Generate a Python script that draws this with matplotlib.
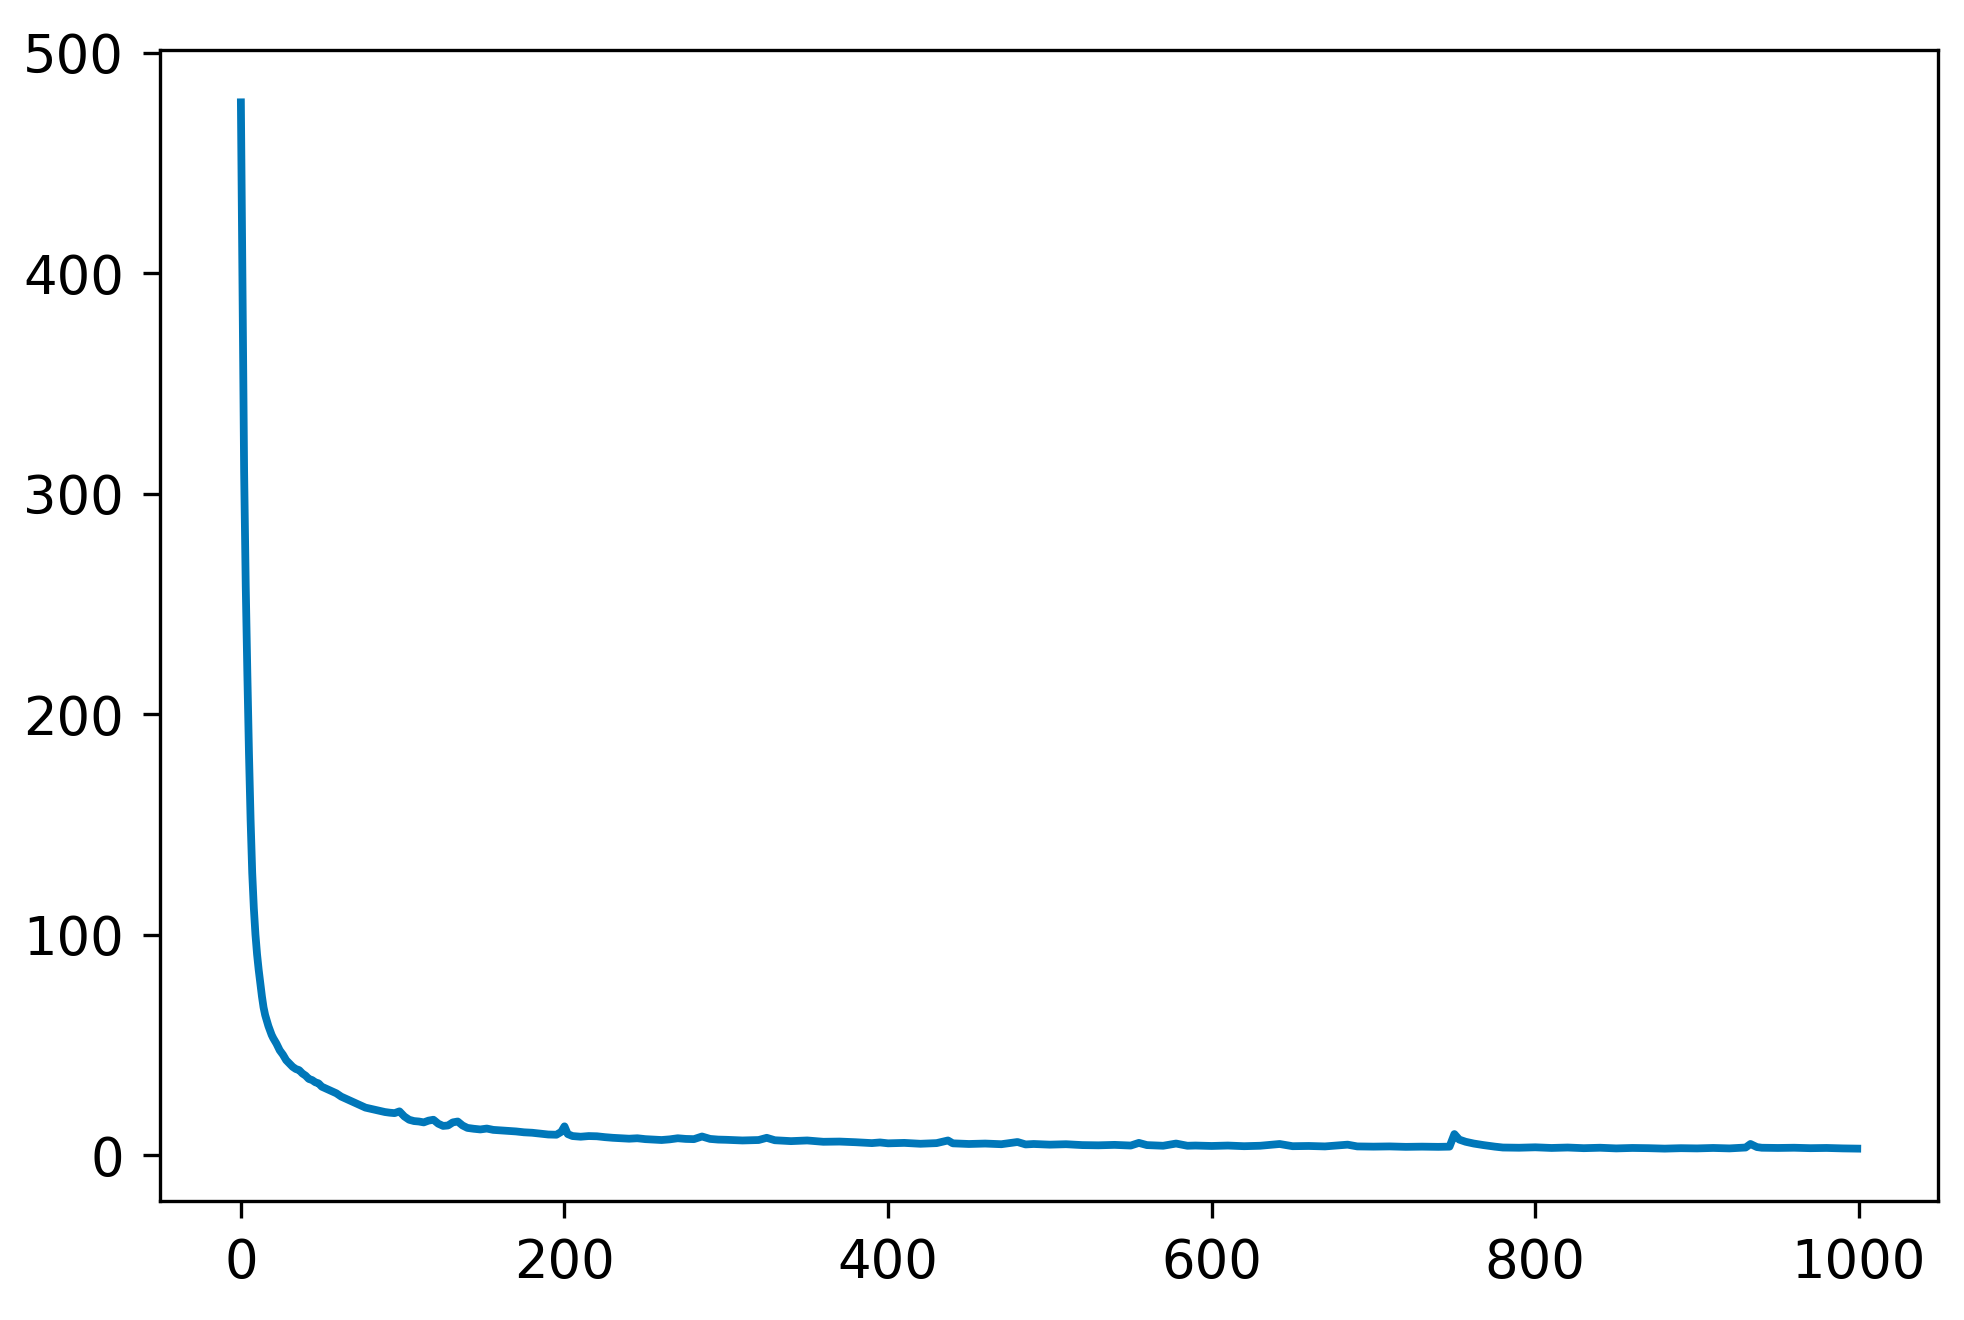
import matplotlib
matplotlib.use("Agg")
import matplotlib.pyplot as plt

# loss per epoch
epoch = [0, 1, 2, 3, 4, 5, 6, 7, 8, 9, 10, 11, 12, 13, 14, 15, 16, 17, 18, 19, 20,
         22, 24, 26, 28, 30, 32, 34, 36, 38, 40, 42, 44, 46, 48, 50,
         53, 56, 59, 62, 65, 68, 71, 74, 77, 80, 83, 86, 89, 92, 95, 98,
         101, 104, 107, 110, 113, 116, 119, 122, 125, 128, 131, 134, 137, 140,
         144, 148, 152, 156, 160, 165, 170, 175, 180, 185, 190, 195, 198, 200, 202,
         205, 210, 215, 220, 225, 230, 235, 240, 245, 250, 255, 260, 265, 270,
         275, 280, 285, 290, 295, 300,
         310, 320, 325, 330, 340, 350, 360, 370, 380, 390, 395, 400, 410, 420,
         430, 437, 440, 450, 460, 470, 480, 485, 490, 500, 510, 520, 530, 540,
         550, 555, 560, 570, 578, 585, 590, 600, 610, 620, 630, 642, 650, 660,
         670, 684, 690, 700, 710, 720, 730, 740, 747, 750, 753, 757, 762, 768,
         775, 780, 790, 800, 810, 820, 830, 840, 850, 860, 870, 880, 890, 900,
         910, 920, 930, 933, 937, 940, 950, 960, 970, 980, 990, 999]

loss = [477.5, 395, 310, 258, 218, 182, 152, 128, 112, 100, 91, 84, 78, 72, 67, 63.5, 61, 58.5, 56.5, 54.5, 53,
        50.5, 47.5, 45.5, 43, 41.5, 40, 39, 38.5, 37, 36, 34.5, 34, 33, 32.5, 31,
        30, 29, 28, 26.5, 25.5, 24.5, 23.5, 22.5, 21.5, 21, 20.5, 20, 19.5, 19.2, 19, 19.8,
        17.5, 16, 15.4, 15.2, 14.8, 15.6, 16, 14.2, 13.2, 13.4, 14.8, 15.2, 13.4, 12.3,
        11.9, 11.6, 12.0, 11.4, 11.2, 11.0, 10.7, 10.3, 10.1, 9.7, 9.3, 9.2, 10.5, 13.0, 9.5,
        8.6, 8.3, 8.6, 8.5, 8.1, 7.8, 7.6, 7.4, 7.6, 7.2, 7.0, 6.8, 7.1, 7.6,
        7.3, 7.2, 8.4, 7.3, 7.0, 6.9,
        6.6, 6.8, 7.8, 6.7, 6.3, 6.6, 6.0, 6.1, 5.8, 5.4, 5.7, 5.3, 5.5, 5.1,
        5.4, 6.6, 5.3, 5.0, 5.2, 4.9, 5.9, 4.8, 5.0, 4.7, 4.9, 4.5, 4.4, 4.6,
        4.3, 5.5, 4.5, 4.2, 5.2, 4.2, 4.3, 4.1, 4.3, 4.0, 4.2, 5.0, 4.0, 4.1,
        3.9, 4.7, 3.9, 3.8, 3.9, 3.7, 3.8, 3.7, 3.8, 9.5, 7.0, 6.0, 5.2, 4.5,
        3.8, 3.4, 3.3, 3.5, 3.2, 3.4, 3.1, 3.3, 3.0, 3.2, 3.1, 2.9, 3.1, 3.0,
        3.2, 3.0, 3.4, 5.0, 3.6, 3.3, 3.2, 3.3, 3.1, 3.2, 3.0, 2.9]

xticks = [0, 200, 400, 600, 800, 1000]
yticks = [0, 100, 200, 300, 400, 500]

fig = plt.figure(figsize=(9.82, 6.6), dpi=200)
ax = fig.add_axes([0.0815, 0.0902, 0.9053, 0.8719])

ax.plot(epoch, loss, color='#0077b9', linewidth=2.8)

ax.set_xticks(xticks)
ax.set_yticks(yticks)
ax.tick_params(labelsize=19, length=6, width=1.2, pad=7)
for s in ax.spines.values():
    s.set_linewidth(1.2)

fig.savefig('out.png', dpi=200)
